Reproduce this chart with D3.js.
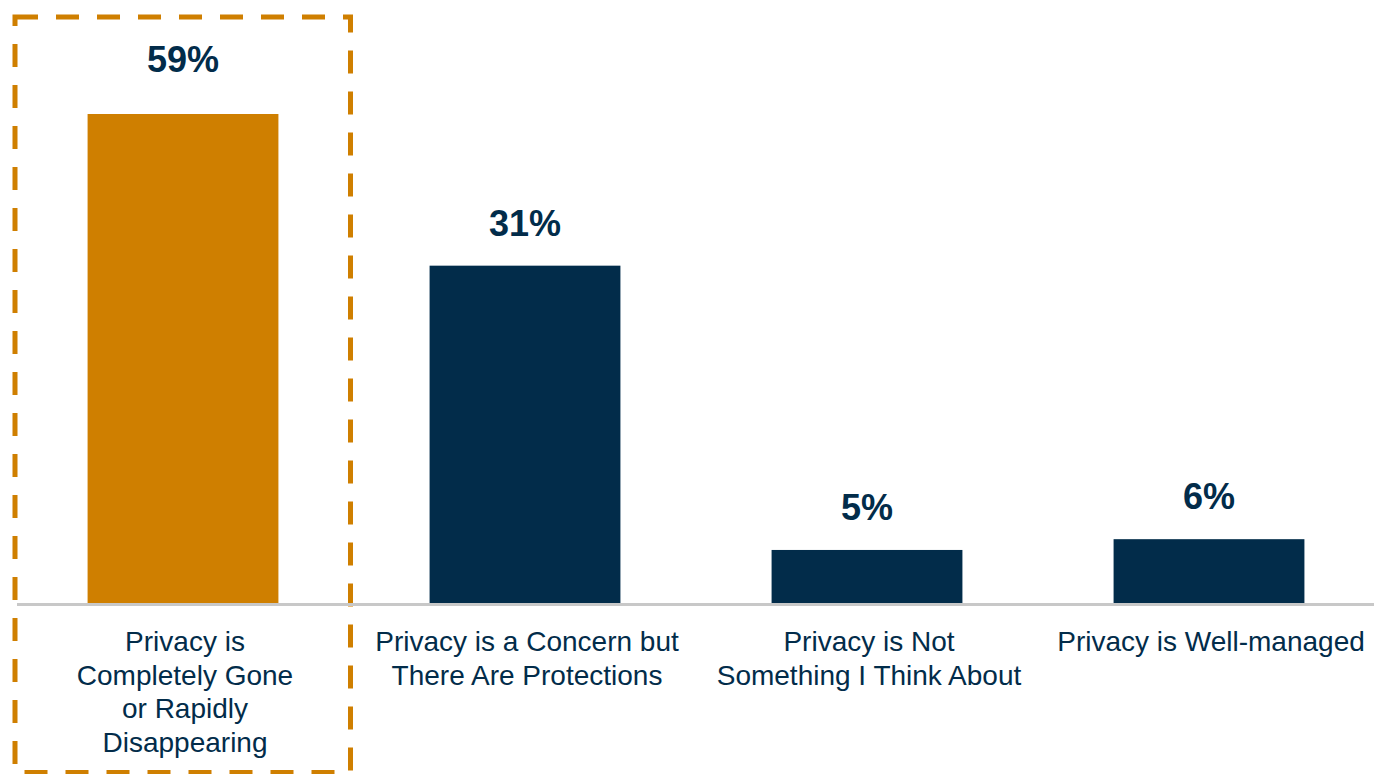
<!DOCTYPE html>
<html>
<head>
<meta charset="utf-8">
<script src="https://cdn.jsdelivr.net/npm/d3@7"></script>
<style>
  html, body { margin: 0; padding: 0; background: #ffffff; }
  svg { display: block; }
  text { font-family: "Liberation Sans", Arial, sans-serif; }
</style>
</head>
<body>
<svg id="chart" width="1374" height="774"></svg>
<script>
// ---- data ----
const categories = [
  "Privacy is\nCompletely Gone\nor Rapidly\nDisappearing",
  "Privacy is a Concern but\nThere Are Protections",
  "Privacy is Not\nSomething I Think About",
  "Privacy is Well-managed"
];
// bar heights as drawn in the picture (relative to the 59% bar)
const barValues = [59, 40.7, 6.4, 7.7];
// value labels as printed
const valueLabels = ["59%", "31%", "5%", "6%"];
const highlighted = [true, false, false, false];

// ---- layout ----
const W = 1374, H = 774;
const baseline = 603;
const svg = d3.select("#chart");

const x = d3.scaleBand()
  .domain(categories)
  .range([12, 1380])
  .paddingInner(0.442)
  .paddingOuter(0.221);

const y = d3.scaleLinear()
  .domain([0, 59])
  .range([baseline, 114]);

const navy = "#022c4a";
const orange = "#cf7f00";

// dashed highlight box
svg.append("rect")
  .attr("x", 15).attr("y", 17)
  .attr("width", 335.5).attr("height", 755.5)
  .attr("fill", "none")
  .attr("stroke", orange)
  .attr("stroke-width", 5)
  .attr("stroke-dasharray", "23,18");

// bars
svg.selectAll("rect.bar")
  .data(categories)
  .enter().append("rect")
  .attr("class", "bar")
  .attr("x", d => x(d))
  .attr("width", x.bandwidth())
  .attr("y", (d, i) => y(barValues[i]))
  .attr("height", (d, i) => baseline - y(barValues[i]))
  .attr("fill", (d, i) => highlighted[i] ? orange : navy);

// axis line
const xAxis = d3.axisBottom(x).tickSize(0).tickFormat("");
const axisG = svg.append("g")
  .attr("transform", `translate(0,${baseline + 1.5})`)
  .call(xAxis);
axisG.select(".domain").remove();
axisG.append("line")
  .attr("x1", 17).attr("x2", W)
  .attr("y1", 0).attr("y2", 0)
  .attr("stroke", "#c8c8c8")
  .attr("stroke-width", 3);

// value labels
svg.selectAll("text.val")
  .data(categories)
  .enter().append("text")
  .attr("class", "val")
  .attr("x", d => x(d) + x.bandwidth() / 2)
  .attr("y", (d, i) => y(barValues[i]) - (highlighted[i] ? 42 : 30))
  .attr("text-anchor", "middle")
  .attr("font-size", 36)
  .attr("font-weight", "bold")
  .attr("fill", navy)
  .text((d, i) => valueLabels[i]);

// category labels
const catG = svg.selectAll("text.cat")
  .data(categories)
  .enter().append("text")
  .attr("class", "cat")
  .attr("text-anchor", "middle")
  .attr("font-size", 28)
  .attr("fill", navy);

catG.each(function(d) {
  const t = d3.select(this);
  const cx = x(d) + x.bandwidth() / 2 + 2;
  d.split("\n").forEach((line, j) => {
    t.append("tspan")
      .attr("x", cx)
      .attr("y", 651 + j * 33.7)
      .text(line);
  });
});
</script>
</body>
</html>
